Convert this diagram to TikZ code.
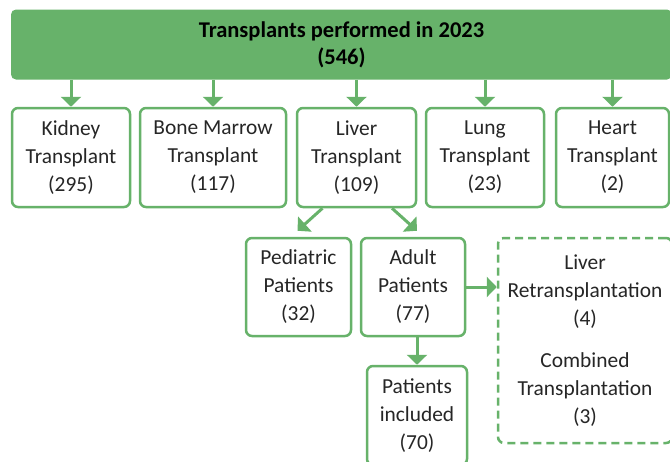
\documentclass[tikz,border=0pt]{standalone}
\usepackage{fontspec}
\setmainfont{Carlito}
\usetikzlibrary{arrows.meta, positioning, calc}
\definecolor{txGreen}{RGB}{103, 178, 106}
\definecolor{txText}{RGB}{38, 38, 38}

\tikzset{
    box/.style={rectangle, rounded corners=6pt, draw=txGreen, line width=2.5pt, fill=white,
                align=center, inner sep=0pt, text=txText,
                font=\fontsize{21.4}{28}\selectfont},
    extrabox/.style={box, dashed, dash pattern=on 8pt off 5pt},
    link/.style={draw=txGreen, line width=3pt, -{Triangle[width=20pt, length=10pt]}}
}

\begin{document}
\begin{tikzpicture}[x=1pt, y=-1pt]
    \useasboundingbox (0,0) rectangle (670,461);

    % top bar
    \node[rectangle, rounded corners=5pt, fill=txGreen, minimum width=661pt, minimum height=70pt,
          align=center, inner sep=0pt, font=\bfseries\fontsize{22.5}{27}\selectfont] (total) at (341.5,44.5)
          {Transplants performed in 2023\\(546)};

    % first level
    \node[box, minimum width=118pt, minimum height=99pt] (kidney) at (71,157.5) {Kidney\\Transplant\\(295)};
    \node[box, minimum width=146pt, minimum height=99pt] (marrow) at (213,157.5) {Bone Marrow\\Transplant\\(117)};
    \node[box, minimum width=119pt, minimum height=99pt] (liver) at (356.5,157.5) {Liver\\Transplant\\(109)};
    \node[box, minimum width=118pt, minimum height=99pt] (lung) at (485,157.5) {Lung\\Transplant\\(23)};
    \node[box, minimum width=113pt, minimum height=99pt] (heart) at (612.5,157.5) {Heart\\Transplant\\(2)};

    % liver split
    \node[box, minimum width=105pt, minimum height=98pt] (pediatric) at (298.5,287) {Pediatric\\Patients\\(32)};
    \node[box, minimum width=104pt, minimum height=98pt] (adult) at (413,287) {Adult\\Patients\\(77)};
    \node[box, minimum width=100pt, minimum height=99pt] (included) at (417,415.5) {Patients\\included\\(70)};
    \node[extrabox, minimum width=174pt, minimum height=205pt] (excluded) at (585,340.5)
          {Liver\\Retransplantation\\(4)\\[14pt]Combined\\Transplantation\\(3)};

    \foreach \n in {kidney, marrow, liver, lung, heart}
        \draw[link] (total.south -| \n.north) -- (\n.north);

    \draw[link] ([xshift=-34pt]liver.south) -- ([xshift=-1pt, yshift=6pt]pediatric.north);
    \draw[link] ([xshift=35.5pt]liver.south) -- ([xshift=4pt, yshift=6pt]adult.north);
    \draw[link] (adult.east) -- (adult.east -| excluded.west);
    \draw[link] (adult.south -| included.north) -- (included.north);
\end{tikzpicture}
\end{document}
